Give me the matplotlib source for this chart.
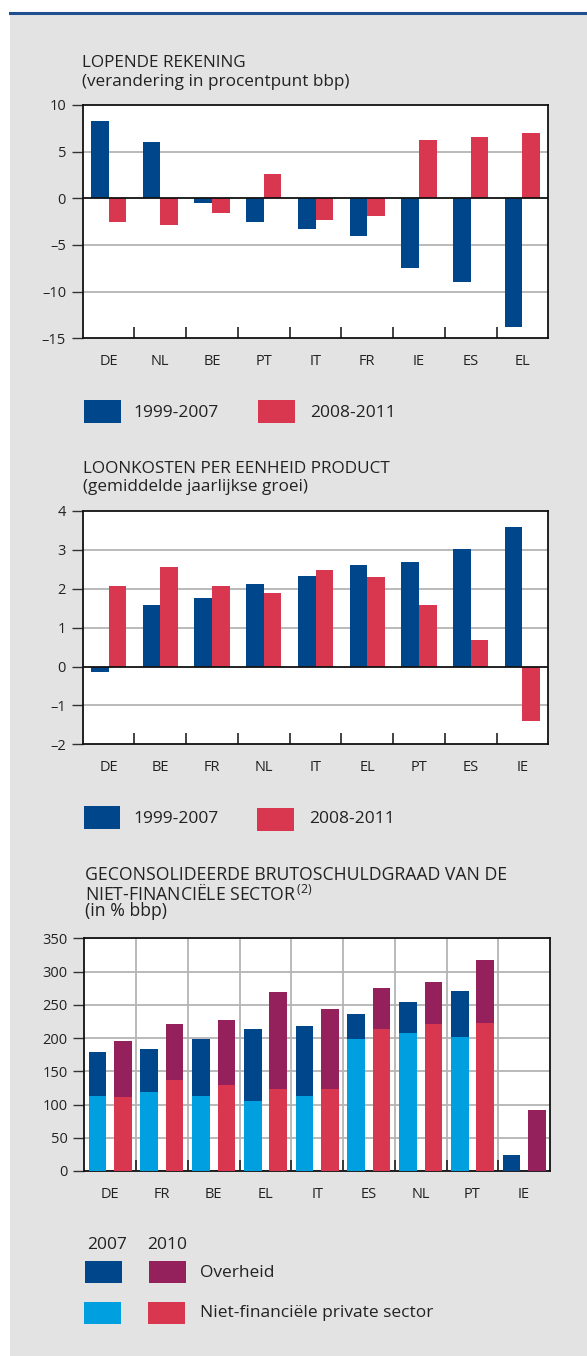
import numpy as np
import matplotlib
matplotlib.use("Agg")
import matplotlib.pyplot as plt
from matplotlib.patches import Rectangle
from matplotlib.lines import Line2D

plt.rcParams['font.family'] = ['Open Sans', 'DejaVu Sans']

# ---------------- data ----------------
ca_countries = ["DE", "NL", "BE", "PT", "IT", "FR", "IE", "ES", "EL"]
ca_1999_2007 = [8.3, 6.0, -0.5, -2.5, -3.3, -4.0, -7.5, -9.0, -13.8]
ca_2008_2011 = [-2.5, -2.9, -1.6, 2.6, -2.3, -1.9, 6.2, 6.6, 7.0]

ulc_countries = ["DE", "BE", "FR", "NL", "IT", "EL", "PT", "ES", "IE"]
ulc_1999_2007 = [-0.15, 1.57, 1.75, 2.13, 2.34, 2.60, 2.70, 3.03, 3.60]
ulc_2008_2011 = [2.06, 2.57, 2.08, 1.90, 2.47, 2.31, 1.57, 0.67, -1.39]

debt_countries = ["DE", "FR", "BE", "EL", "IT", "ES", "NL", "PT", "IE"]
private_2007 = [113, 119, 113, 105, 113, 199, 208, 202, 0]
gov_2007 = [66, 65, 86, 109, 105, 37, 46, 69, 24]
private_2010 = [111, 137, 129, 123, 123, 214, 221, 223, 0]
gov_2010 = [85, 84, 98, 146, 121, 61, 63, 95, 92]

period_labels = ["1999-2007", "2008-2011"]
year_labels = ["2007", "2010"]
debt_series = ["Overheid", "Niet-financiële private sector"]

# ---------------- style ----------------
W, H = 587, 1356
DBLUE = "#00468b"
RED = "#d9364f"
LBLUE = "#009fe0"
PURPLE = "#95215c"
BG = "#e3e3e3"
TXT = "#222222"
GRID = "#b4b4b4"
TICK_FS = 10.5
LEG_FS = 12.5

fig = plt.figure(figsize=(W / 100, H / 100), dpi=100)
fig.patch.set_facecolor("white")


def fx(px):
    return px / W


def fy(py):
    return 1 - py / H


# gray panel + top line
fig.patches.append(Rectangle((fx(10), 0), 1 - fx(10), fy(14), transform=fig.transFigure,
                             facecolor=BG, edgecolor="none", zorder=-10))
fig.lines.append(Line2D([fx(10), 1], [fy(13), fy(13)], transform=fig.transFigure,
                        color="#1f4f8f", lw=2.2, zorder=-5))


def make_axes(left, top, right, bottom):
    return fig.add_axes([fx(left), fy(bottom), fx(right) - fx(left), (bottom - top) / H])


def style_axes(ax, cats, ylim, yticks, pad_x=11.5):
    ax.set_facecolor("white")
    ax.set_xlim(-0.5, len(cats) - 0.5)
    ax.set_ylim(*ylim)
    ax.set_yticks(yticks)
    ax.set_yticklabels([str(t).replace("-", "\u2013") for t in yticks])
    ax.set_xticks(np.arange(len(cats)))
    ax.set_xticklabels(cats)
    ax.set_xticks(np.arange(0.5, len(cats) - 0.5, 1), minor=True)
    ax.tick_params(axis='x', which='major', length=0, pad=pad_x, labelsize=TICK_FS, labelcolor=TXT)
    ax.tick_params(axis='x', which='minor', direction='in', length=8, width=1.2, color="#222")
    ax.tick_params(axis='y', which='major', direction='out', length=8, width=1.0, pad=4,
                   labelsize=TICK_FS, labelcolor=TXT, color="#333")
    ax.tick_params(axis='y', which='minor', length=0)
    for s in ax.spines.values():
        s.set_color("#111")
        s.set_linewidth(1.3)
    ax.set_axisbelow(True)


def title(lines, x, ys, size=12.3):
    for line, y in zip(lines, ys):
        fig.text(fx(x), fy(y), line, ha="left", va="center", fontsize=size, color=TXT)


def swatch(x0, y0, x1, y1, color):
    fig.patches.append(Rectangle((fx(x0), fy(y1)), fx(x1) - fx(x0), (y1 - y0) / H,
                                 transform=fig.transFigure, facecolor=color, edgecolor="none"))


# ---------------- chart 1 ----------------
title(["LOPENDE REKENING", "(verandering in procentpunt bbp)"], 82, [63, 82])
ax1 = make_axes(82.7, 105, 548.3, 338.3)
x = np.arange(len(ca_countries))
bw = 0.34
ax1.bar(x - bw / 2, ca_1999_2007, bw, color=DBLUE, zorder=3)
ax1.bar(x + bw / 2, ca_2008_2011, bw, color=RED, zorder=3)
style_axes(ax1, ca_countries, (-15, 10), [-15, -10, -5, 0, 5, 10])
for v in [-10, -5, 5]:
    ax1.axhline(v, color=GRID, lw=1.3, zorder=1)
ax1.axhline(0, color="#111", lw=1.3, zorder=4)

swatch(84, 400, 121, 423, DBLUE)
fig.text(fx(133), fy(413), period_labels[0], ha="left", va="center", fontsize=LEG_FS, color=TXT)
swatch(258, 400, 295, 423, RED)
fig.text(fx(310), fy(413), period_labels[1], ha="left", va="center", fontsize=LEG_FS, color=TXT)

# ---------------- chart 2 ----------------
title(["LOONKOSTEN PER EENHEID PRODUCT", "(gemiddelde jaarlijkse groei)"], 83, [469, 487])
ax2 = make_axes(82.7, 511, 548.3, 744.3)
ax2.bar(x - bw / 2, ulc_1999_2007, bw, color=DBLUE, zorder=3)
ax2.bar(x + bw / 2, ulc_2008_2011, bw, color=RED, zorder=3)
style_axes(ax2, ulc_countries, (-2, 4), [-2, -1, 0, 1, 2, 3, 4])
for v in [-1, 1, 2, 3]:
    ax2.axhline(v, color=GRID, lw=1.3, zorder=1)
ax2.axhline(0, color="#111", lw=1.3, zorder=4)

swatch(84, 806, 120, 829, DBLUE)
fig.text(fx(133), fy(819), period_labels[0], ha="left", va="center", fontsize=LEG_FS, color=TXT)
swatch(257, 808, 294, 831, RED)
fig.text(fx(309), fy(819), period_labels[1], ha="left", va="center", fontsize=LEG_FS, color=TXT)

# ---------------- chart 3 ----------------
T3 = 12.7
fig.text(fx(85), fy(875), "GECONSOLIDEERDE BRUTOSCHULDGRAAD VAN DE", ha="left", va="center",
         fontsize=T3, color=TXT)
fig.text(fx(85), fy(893), r"NIET-FINANCIËLE SECTOR$^{\mathregular{\,(2)}}$", ha="left", va="center",
         fontsize=T3, color=TXT)
fig.text(fx(85), fy(911), "(in % bbp)", ha="left", va="center", fontsize=T3, color=TXT)

ax3 = make_axes(84.3, 938.3, 550, 1171)
off = 0.245
ax3.bar(x - off, private_2007, bw, color=LBLUE, zorder=3)
ax3.bar(x - off, gov_2007, bw, bottom=private_2007, color=DBLUE, zorder=3)
ax3.bar(x + off, private_2010, bw, color=RED, zorder=3)
ax3.bar(x + off, gov_2010, bw, bottom=private_2010, color=PURPLE, zorder=3)
style_axes(ax3, debt_countries, (0, 350), list(range(0, 351, 50)))
ax3.grid(axis='y', which='major', color=GRID, lw=1.3)
ax3.grid(axis='x', which='minor', color=GRID, lw=1.3)

fig.text(fx(87), fy(1245), year_labels[0], ha="left", va="center", fontsize=LEG_FS, color=TXT)
fig.text(fx(147), fy(1245), year_labels[1], ha="left", va="center", fontsize=LEG_FS, color=TXT)
swatch(85, 1261, 122, 1283, DBLUE)
swatch(149, 1261, 186, 1283, PURPLE)
fig.text(fx(200), fy(1273), debt_series[0], ha="left", va="center", fontsize=LEG_FS, color=TXT)
swatch(84, 1302, 121, 1324, LBLUE)
swatch(148, 1302, 185, 1324, RED)
fig.text(fx(200), fy(1313), debt_series[1], ha="left", va="center", fontsize=LEG_FS, color=TXT)

fig.savefig("out.png", dpi=100, facecolor=fig.get_facecolor())
